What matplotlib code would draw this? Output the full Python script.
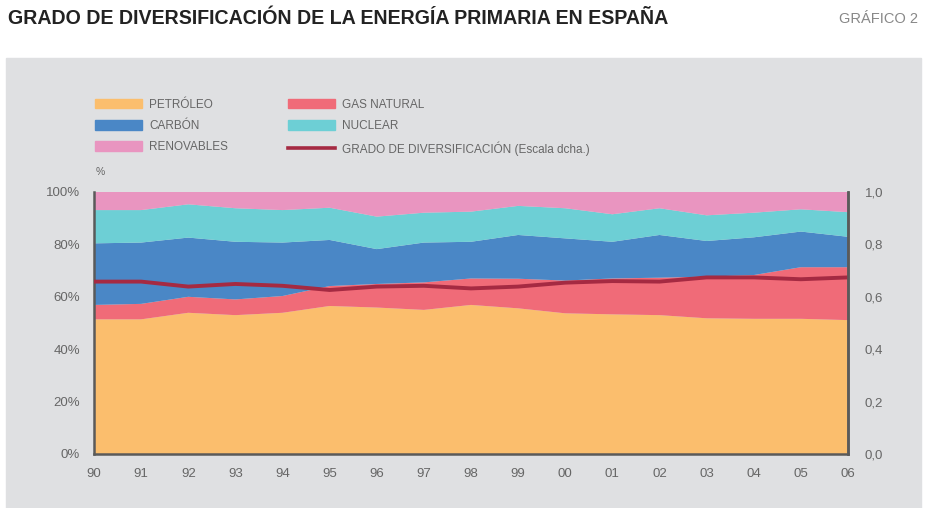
import matplotlib
matplotlib.use('Agg')
import matplotlib.pyplot as plt
from matplotlib.patches import Rectangle
from matplotlib.lines import Line2D
from matplotlib.patches import Patch

# 1. Data (shares in %, diversification on 0-1 scale)
years = ['90', '91', '92', '93', '94', '95', '96', '97', '98',
         '99', '00', '01', '02', '03', '04', '05', '06']
petroleo   = [51.4, 51.4, 53.9, 53.0, 53.9, 56.5, 55.9, 55.0, 56.9,
              55.6, 53.7, 53.3, 53.0, 51.8, 51.6, 51.6, 51.1]
gas        = [5.5, 5.9, 6.1, 6.0, 6.4, 7.6, 9.0, 10.5, 10.1,
              11.3, 12.5, 13.7, 14.3, 15.9, 16.7, 19.7, 20.2]
carbon     = [23.5, 23.4, 22.6, 22.0, 20.4, 17.6, 13.3, 15.2, 14.0,
              16.7, 16.1, 14.0, 16.3, 13.6, 14.4, 13.6, 11.6]
nuclear    = [12.7, 12.4, 12.7, 12.8, 12.4, 12.3, 12.4, 11.4, 11.5,
              11.1, 11.5, 10.5, 10.2, 9.8, 9.4, 8.5, 9.4]
renovables = [6.9, 6.9, 4.7, 6.2, 6.9, 6.0, 9.4, 7.9, 7.5,
              5.3, 6.2, 8.5, 6.2, 8.9, 7.9, 6.6, 7.7]
diversif   = [0.658, 0.658, 0.639, 0.649, 0.642, 0.626, 0.639, 0.642, 0.632,
              0.639, 0.654, 0.660, 0.658, 0.674, 0.674, 0.667, 0.674]

left_ticks = ['0%', '20%', '40%', '60%', '80%', '100%']
right_ticks = ['0,0', '0,2', '0,4', '0,6', '0,8', '1,0']

# 2. Styles
c_pet, c_gas, c_car, c_nuc, c_ren = '#fbbe6d', '#f06b78', '#4a87c6', '#6dcfd5', '#e995c0'
c_line = '#a52a42'
bg = '#dfe0e2'
txt = '#666666'
plt.rcParams['font.family'] = ['Liberation Sans', 'DejaVu Sans']

W, H = 925, 508
fig = plt.figure(figsize=(W / 100, H / 100), dpi=100)
fig.patch.set_facecolor('white')

# gray panel (behind the axes)
fig.patches.append(Rectangle((6 / W, 0), (921 - 6) / W, (H - 58) / H,
                             transform=fig.transFigure, color=bg, zorder=-10))

fig.text(8 / W, 1 - 18 / H, 'GRADO DE DIVERSIFICACIÓN DE LA ENERGÍA PRIMARIA EN ESPAÑA',
         fontsize=14.1, fontweight='bold', color='#222222', va='center', ha='left')
fig.text(918 / W, 1 - 19 / H, 'GRÁFICO 2', fontsize=10.5, color='#888888',
         va='center', ha='right')

# 3. Main axes
x0, x1, ytop, ybot = 94, 848, 192, 454
ax = fig.add_axes([x0 / W, 1 - ybot / H, (x1 - x0) / W, (ybot - ytop) / H])
ax.set_facecolor(bg)
x = list(range(len(years)))
ax.stackplot(x, petroleo, gas, carbon, nuclear, renovables,
             colors=[c_pet, c_gas, c_car, c_nuc, c_ren], linewidth=0)
ax.set_xlim(0, len(years) - 1)
ax.set_ylim(0, 100)
ax.set_yticks([0, 20, 40, 60, 80, 100])
ax.set_yticklabels(left_ticks)
ax.set_xticks(x)
ax.set_xticklabels(years)
ax.tick_params(length=0, labelsize=9.5, labelcolor=txt, pad=10)
for s in ['left', 'bottom', 'right']:
    ax.spines[s].set_color('#5a5a5a')
    ax.spines[s].set_linewidth(1.8)
ax.spines['top'].set_visible(False)

ax2 = ax.twinx()
ax2.plot(x, diversif, color=c_line, linewidth=2.8, solid_capstyle='butt', clip_on=False)
ax2.set_ylim(0, 1)
ax2.set_yticks([0, 0.2, 0.4, 0.6, 0.8, 1.0])
ax2.set_yticklabels(right_ticks)
ax2.tick_params(length=0, labelsize=9.5, labelcolor=txt, pad=12)
for s in ['top', 'left', 'bottom']:
    ax2.spines[s].set_visible(False)
ax2.spines['right'].set_color('#5a5a5a')
ax2.spines['right'].set_linewidth(1.8)

# 4. Legend (two columns, drawn by the library)
handles = [Patch(color=c_pet), Patch(color=c_car), Patch(color=c_ren),
           Patch(color=c_gas), Patch(color=c_nuc),
           Line2D([], [], color=c_line, linewidth=2.6)]
labels = ['PETRÓLEO', 'CARBÓN', 'RENOVABLES', 'GAS NATURAL', 'NUCLEAR',
          'GRADO DE DIVERSIFICACIÓN (Escala dcha.)']
leg = fig.legend(handles, labels, ncol=2, loc='upper left',
                 bbox_to_anchor=(84 / W, 1 - 88 / H), frameon=False,
                 fontsize=8.5, handlelength=4.0, handleheight=0.9,
                 handletextpad=0.6, columnspacing=5.1, labelspacing=0.78)
for t in leg.get_texts():
    t.set_color(txt)

fig.text(96 / W, 1 - 172 / H, '%', fontsize=7.5, color=txt, va='center')

fig.savefig('out.png', dpi=100, facecolor=fig.get_facecolor())
